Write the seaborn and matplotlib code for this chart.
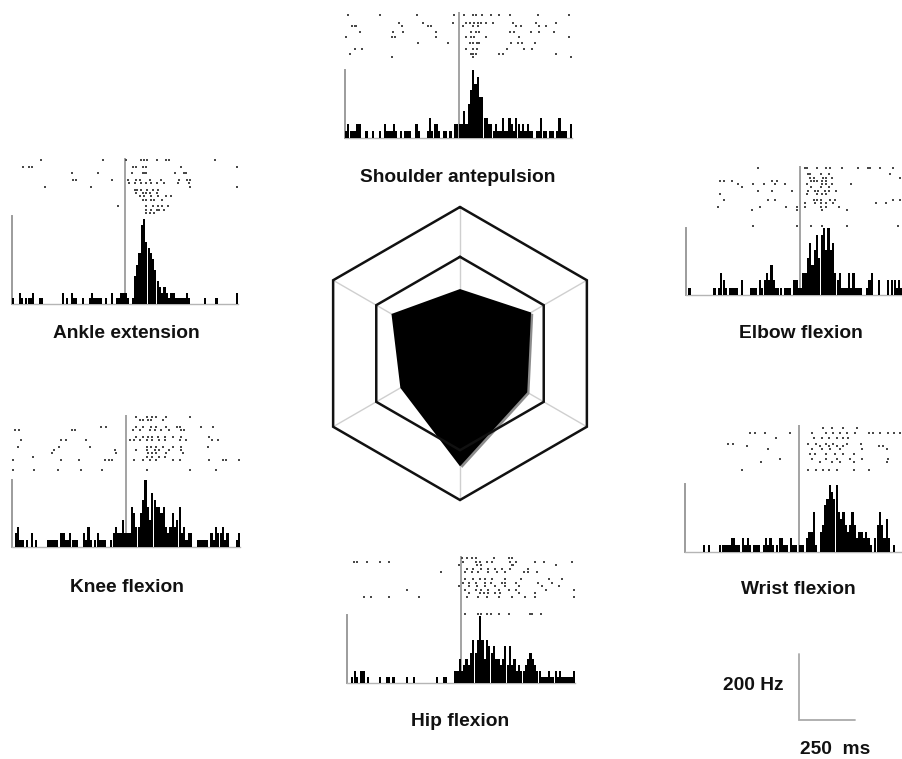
import numpy as np
import pandas as pd
import matplotlib
matplotlib.use("Agg")
import matplotlib.pyplot as plt
import matplotlib.transforms as mtransforms
import seaborn as sns

sns.set_style("white")
plt.rcParams['font.family'] = ['Liberation Sans', 'DejaVu Sans']

# ---------------- data ----------------
# PSTH spike counts, 100 bins of 10 ms from -500 to +500 ms
shoulder_counts = [1,2,1,1,1,2,2,0,0,1, 0,0,1,0,0,1,0,2,1,1, 1,2,1,0,1,0,1,1,1,0,
                   0,2,1,0,0,0,1,3,1,2, 2,1,0,1,1,0,1,0,2,2, 2,2,4,2,5,7,10,8,9,6,
                   6,3,3,2,2,1,2,1,1,3, 1,1,3,2,1,3,2,1,2,1, 2,1,1,0,1,1,3,1,1,0,
                   1,1,0,1,3,1,1,1,0,2]
ankle_counts = [1,0,0,2,1,0,1,1,1,2, 0,0,1,1,0,0,0,0,0,0, 0,0,2,0,1,0,2,1,1,0,
                0,1,0,0,1,2,1,1,1,1, 0,1,0,0,2,0,1,1,2,2, 2,1,0,1,5,7,9,14,15,11,
                10,9,8,6,4,3,2,3,2,1, 2,2,1,1,1,1,1,2,1,0, 0,0,0,0,0,1,0,0,0,0,
                1,0,0,0,0,0,0,0,0,2]
knee_counts = [0,2,3,1,1,0,1,0,2,0, 1,0,0,0,0,1,1,1,1,1, 0,2,2,1,1,2,1,1,1,0,
               0,2,1,3,1,0,1,2,1,1, 1,0,0,1,2,3,2,2,4,2, 2,2,6,5,3,3,5,7,10,6,
               4,8,7,6,6,5,6,3,2,3, 5,3,4,6,2,3,1,2,2,0, 0,1,1,1,1,1,0,2,1,3,
               2,2,3,1,2,0,0,0,1,2]
elbow_counts = [0,1,0,0,0,0,0,0,0,0, 0,0,1,0,1,3,2,1,0,1, 1,1,1,0,2,0,0,0,1,1,
                1,0,2,1,2,3,2,4,2,1, 1,1,0,1,1,1,0,2,2,1, 1,3,3,5,7,4,6,8,5,8,
                9,6,9,6,7,3,2,3,1,1, 1,3,1,3,1,1,1,0,0,1, 2,3,0,0,2,0,0,0,2,0,
                2,2,1,2,1,0,1,0,0,0]
wrist_counts = [0,0,0,0,0,0,0,0,1,0, 1,0,0,0,0,1,1,1,1,1, 2,2,1,1,0,2,1,2,1,0,
                1,1,1,0,1,2,1,2,1,0, 1,2,2,1,1,0,2,1,1,0, 1,1,0,2,3,3,6,1,0,3,
                4,7,8,10,9,8,10,6,5,6, 4,3,4,6,4,2,3,3,2,3, 2,1,0,2,4,6,4,2,5,2,
                0,1,0,0,0,1,0,0,0,0]
hip_counts = [0,0,1,2,1,0,2,2,0,1, 0,0,0,0,1,0,0,1,1,0, 1,0,0,0,0,0,1,0,0,1,
              0,0,0,0,0,0,0,0,0,1, 0,0,1,1,0,0,0,2,2,4, 2,3,4,3,5,7,5,7,11,7,
              4,7,6,5,6,4,4,3,4,6, 3,6,3,4,2,3,2,2,3,4, 5,4,3,2,2,1,1,1,2,1,
              1,2,1,2,1,1,1,1,1,2]

# histogram axis height (counts)
shoulder_ymax, ankle_ymax, knee_ymax = 10, 15.6, 10
elbow_ymax, wrist_ymax, hip_ymax = 9, 10.2, 11.1

# raster: trial numbers and spike times (ms)
shoulder_trials = [1, 4, 5, 7, 9, 11, 13, 15, 16]
shoulder_spikes = [
    [-485, -345, -185, -20, 25, 65, 75, 105, 145, 180, 225, 350, 485],
    [-260, -155, -25, 35, 50, 70, 85, 100, 120, 150, 240, 340, 430],
    [-470, -455, -450, -250, -135, -120, 20, 65, 85, 255, 275, 355, 385],
    [-435, -290, -245, -100, 55, 75, 90, 225, 245, 320, 355, 420],
    [-495, -295, -280, -100, 35, 55, 70, 120, 265, 485],
    [-180, -45, 50, 65, 80, 90, 230, 260, 280, 335],
    [-455, -425, 35, 65, 80, 215, 290, 325],
    [-480, 55, 65, 75, 180, 195, 430],
    [-295, 65, 495],
]
ankle_trials = [1, 3, 5, 7, 8, 9, 10, 11, 12, 13, 15, 16, 17]
ankle_spikes = [
    [-370, -95, 5, 70, 85, 100, 140, 180, 195, 400],
    [-450, -425, -410, 35, 50, 80, 95, 250, 495],
    [-235, -120, 30, 80, 85, 95, 220, 260, 270],
    [-230, -215, -55, 15, 50, 65, 110, 160, 240, 275, 290],
    [20, 45, 70, 95, 115, 140, 175, 235, 285],
    [-355, -150, 290, 495],
    [45, 55, 70, 100, 125, 145],
    [50, 80, 95, 110, 140],
    [65, 85, 115, 145, 180, 205],
    [80, 95, 115, 130, 165],
    [-30, 95, 125, 145, 165, 190],
    [95, 115, 140, 150, 175],
    [95, 110, 130],
]
knee_trials = [1, 2, 4, 5, 7, 8, 10, 11, 12, 13, 14, 17]
knee_spikes = [
    [45, 90, 115, 130, 175, 280],
    [60, 75, 95, 110, 160],
    [-110, -90, 45, 75, 110, 130, 175, 225, 235, 330, 380],
    [-490, -470, -240, -225, 30, 60, 105, 125, 155, 190, 240, 255],
    [45, 75, 95, 115, 140, 170, 205, 240, 365],
    [-460, -285, -265, -175, 15, 35, 60, 90, 115, 145, 170, 235, 265, 375, 405],
    [-475, -295, -160, 90, 110, 130, 160, 205, 240, 360],
    [-315, -50, 45, 90, 125, 145, 190, 240],
    [-325, -45, 95, 115, 130, 175, 250],
    [-410, 90, 115, 145, 170],
    [-495, -285, -205, -95, -75, -60, 35, 75, 105, 130, 205, 235, 365, 425, 440, 495],
    [-495, -405, -300, -200, -105, 90, 280, 395],
]
elbow_trials = [1, 3, 4, 5, 6, 7, 8, 9, 11, 12, 13, 14, 19]
elbow_spikes = [
    [-185, 20, 30, 75, 115, 130, 185, 255, 300, 305, 350, 410],
    [35, 45, 90, 125, 395],
    [45, 60, 100, 115, 140, 440],
    [-350, -335, -300, -125, -100, 50, 60, 75, 95, 115],
    [-270, -205, -160, -110, -65, 30, 95, 115, 140, 225],
    [-255, 50, 90, 125],
    [-185, -125, -35, 35, 65, 80, 110, 125, 160],
    [-350, 30, 75, 95, 115],
    [-335, -140, -110, 60, 75, 90, 130, 155, 410, 440],
    [20, 65, 90, 115, 145, 335, 375],
    [-360, -175, -60, -15, 20, 90, 115, 170],
    [-210, -15, 95, 205],
    [-205, -15, 50, 95, 205, 430],
]
wrist_trials = [1, 3, 5, 7, 8, 9, 11, 13, 14, 17]
wrist_spikes = [
    [105, 145, 195, 255],
    [-215, -195, -150, -40, 55, 120, 150, 180, 210, 245, 305, 325, 355, 390, 415, 445],
    [-100, 65, 100, 130, 165, 195, 215],
    [-310, -290, 40, 75, 120, 150, 210, 270],
    [-230, 90, 130, 165, 195, 350, 370],
    [-135, 55, 100, 135, 180, 275, 385],
    [50, 70, 120, 160, 195, 240],
    [-85, 55, 120, 165, 225, 275, 390],
    [-165, 90, 145, 180, 240, 385],
    [-250, 40, 75, 105, 130, 165, 240, 305],
]
hip_trials = [1, 2, 3, 4, 5, 7, 8, 9, 10, 11, 12, 17]
hip_spikes = [
    [5, 25, 50, 65, 145, 210, 225],
    [-470, -455, -410, -355, -315, 10, 65, 85, 115, 135, 215, 240, 325, 365, 485],
    [-10, 70, 90, 225, 230, 415],
    [25, 55, 90, 120, 150, 180, 215, 295],
    [-85, 20, 50, 75, 120, 160, 195, 275, 295, 335],
    [20, 55, 85, 105, 135, 195, 265, 385, 445],
    [10, 35, 65, 105, 130, 180, 195, 240, 340, 400],
    [-10, 35, 70, 105, 150, 195, 255, 355, 430],
    [-235, 20, 65, 90, 120, 165, 210, 240, 375, 495],
    [35, 85, 100, 120, 150, 170, 255, 325],
    [-425, -395, -315, -185, 25, 75, 115, 165, 225, 280, 325, 495],
    [20, 75, 90, 115, 130, 165, 210, 305, 310, 350],
]

# radar (clockwise from top)
radar_labels = ["Shoulder antepulsion", "Elbow flexion", "Wrist flexion",
                "Hip flexion", "Knee flexion", "Ankle extension"]
radar_values = [0.44, 0.56, 0.53, 0.77, 0.47, 0.54]
radar_rings = [0.66, 1.0]

scale_hz = 200
scale_ms = 250

# ---------------- layout ----------------
W, H = 902, 759
fig = plt.figure(figsize=(W / 100, H / 100), dpi=100)


def add_px_axes(x0, y0, x1, y1):
    return fig.add_axes([x0 / W, 1 - y1 / H, (x1 - x0) / W, (y1 - y0) / H])


bin_w = 10
centers = np.arange(-500, 500, bin_w) + bin_w / 2
LINE_GRAY = '#9c9c9c'
TITLE_KW = dict(ha='center', va='center', fontsize=13.8, fontweight='bold', color='#111111')


def draw_panel(counts, ymax, trials, spikes, title, lay):
    x0, x1, ev_top, dot_top, dot_bot, hist_top, base, tx, ty = lay
    # PSTH
    axh = add_px_axes(x0, hist_top, x1, base)
    df = pd.DataFrame({'t': centers, 'n': np.asarray(counts, dtype=float)})
    sns.histplot(data=df, x='t', weights='n', binwidth=bin_w, binrange=(-500, 500),
                 ax=axh, color='black', alpha=1, linewidth=0, shrink=0.95,
                 stat='count', zorder=3)
    axh.set_xlim(-500, 500)
    axh.set_ylim(0, ymax)
    axh.set_xlabel('')
    axh.set_ylabel('')
    axh.set_xticks([])
    axh.set_yticks([])
    axh.patch.set_alpha(0)
    for s in ('top', 'right'):
        axh.spines[s].set_visible(False)
    axh.spines['left'].set_color(LINE_GRAY)
    axh.spines['left'].set_linewidth(1.4)
    axh.spines['bottom'].set_color('#b5b5b5')
    axh.spines['bottom'].set_linewidth(1.0)
    axh.axvline(0, color=LINE_GRAY, lw=1.3, zorder=1)
    # raster
    axr = add_px_axes(x0, ev_top, x1, hist_top)
    nmax = max(trials)
    pitch = (dot_bot - dot_top) / (nmax - 1)
    ytop = 1 - (dot_top - ev_top) / pitch
    ybot = nmax + (hist_top - dot_bot) / pitch
    xs, ys = [], []
    for tr, times in zip(trials, spikes):
        xs.extend(times)
        ys.extend([tr] * len(times))
    rdf = pd.DataFrame({'t': xs, 'trial': ys})
    sns.scatterplot(data=rdf, x='t', y='trial', ax=axr, marker='s', s=1.6,
                    color='#4a4a4a', linewidth=0, legend=False, clip_on=False)
    axr.set_xlim(-500, 500)
    axr.set_ylim(ybot, ytop)
    axr.axvline(0, color=LINE_GRAY, lw=1.3, zorder=0)
    axr.axis('off')
    fig.text(tx / W, 1 - ty / H, title, **TITLE_KW)


draw_panel(shoulder_counts, shoulder_ymax, shoulder_trials, shoulder_spikes, radar_labels[0],
           (345, 572, 12, 15, 57, 70, 138, 458, 178))
draw_panel(elbow_counts, elbow_ymax, elbow_trials, elbow_spikes, radar_labels[1],
           (686, 914, 166, 168, 226, 227.7, 295, 801, 333))
draw_panel(wrist_counts, wrist_ymax, wrist_trials, wrist_spikes, radar_labels[2],
           (685, 913, 425, 428, 470, 484, 551.7, 798, 590))
draw_panel(hip_counts, hip_ymax, hip_trials, hip_spikes, radar_labels[3],
           (346.7, 575, 556, 558, 614, 615, 683.3, 460, 722))
draw_panel(knee_counts, knee_ymax, knee_trials, knee_spikes, radar_labels[4],
           (12.3, 240, 415, 417, 470, 480, 546.7, 127, 588))
draw_panel(ankle_counts, ankle_ymax, ankle_trials, ankle_spikes, radar_labels[5],
           (11.7, 238, 158, 160, 213, 216, 304, 126.5, 333))

# ---------------- radar ----------------
cx, cy, R = 460, 353.5, 146.5
half = 160
axp = add_px_axes(cx - half, cy - half, cx + half, cy + half)
lim = half / R
axp.set_xlim(-lim, lim)
axp.set_ylim(-lim, lim)
axp.axis('off')
theta = np.deg2rad(90 - 60 * np.arange(len(radar_labels)))
for t in theta:
    axp.plot([0, np.cos(t)], [0, np.sin(t)], color='#cfcfcf', lw=1.0, zorder=1)
closed = np.append(theta, theta[0])
for lvl in radar_rings:
    axp.plot(lvl * np.cos(closed), lvl * np.sin(closed), color='#111111', lw=1.8,
             zorder=4, solid_joinstyle='miter')
vals = np.array(radar_values)
px = vals * np.cos(theta)
py = vals * np.sin(theta)
shadow = mtransforms.offset_copy(axp.transData, fig=fig, x=2.2, y=-1.6, units='dots')
axp.fill(px, py, color='#8c8c8c', lw=0, zorder=2, transform=shadow)
axp.fill(px, py, color='black', lw=0, zorder=3)

# ---------------- scale bar ----------------
axs = add_px_axes(799, 654, 855, 720)
axs.plot([0, 0, scale_ms], [scale_hz, 0, 0], color='#aaaaaa', lw=1.3, clip_on=False,
         solid_joinstyle='miter')
axs.set_xlim(0, scale_ms)
axs.set_ylim(0, scale_hz)
axs.axis('off')
fig.text(753 / W, 1 - 686 / H, f"{scale_hz} Hz", **TITLE_KW)
fig.text(835 / W, 1 - 749 / H, f"{scale_ms}  ms", **TITLE_KW)

fig.savefig("out.png", dpi=100)
